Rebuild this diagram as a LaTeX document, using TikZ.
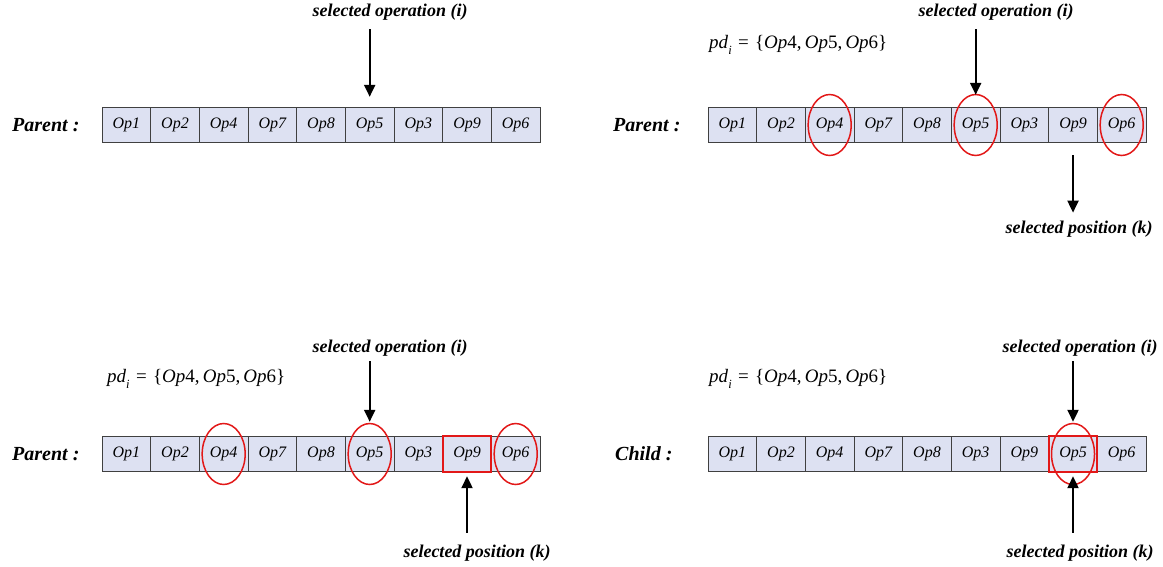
\documentclass[tikz,border=0pt]{standalone}
\usepackage{fontspec}
\setmainfont{Liberation Serif}
\usetikzlibrary{arrows.meta,shapes.geometric}
\definecolor{cellfill}{RGB}{221,225,242}
\definecolor{opred}{RGB}{226,24,24}
\newcommand{\pdset}{\textit{pd}\raisebox{-0.3em}{\fontsize{12.5}{14}\selectfont\textit{i}}\,\,=\,\,\{\textit{Op}4,\,\textit{Op}5,\,\textit{Op}6\}}
\begin{document}
\begin{tikzpicture}[x=1pt,y=-1pt,
  cell/.style={draw=black!75,fill=cellfill,minimum width=48.67pt,minimum height=35.5pt,inner sep=0pt,
    font=\fontsize{16}{19}\selectfont\itshape,line width=0.9pt},
  lbl/.style={font=\fontsize{20}{24}\selectfont\bfseries\itshape,anchor=west,inner sep=0pt},
  note/.style={font=\fontsize{18}{21}\selectfont\bfseries\itshape,inner sep=0pt},
  pdtext/.style={font=\fontsize{19}{22}\selectfont,anchor=west,inner sep=0pt},
  arr/.style={-{Triangle[length=12pt,width=11pt]},line width=2pt},
  ring/.style={draw=opred,ellipse,line width=1.5pt,minimum width=43pt,minimum height=61pt,inner sep=0pt},
  hbox/.style={draw=opred,line width=1.8pt,minimum width=48.67pt,minimum height=35.5pt,inner sep=0pt}
]
\useasboundingbox (0,0) rectangle (1163,567);

% ---------- top left ----------
\node[lbl] (la) at (12,125) {Parent :};
\foreach \t [count=\i] in {Op1,Op2,Op4,Op7,Op8,Op5,Op3,Op9,Op6}
  \node[cell] (a\i) at ({102+48.67*(\i-0.5)},125) {\t};
\node[note] (ta) at (390,12) {selected operation (i)};
\coordinate (ta0) at (a6.north |- ta.south);
\draw[arr] ([yshift=-9pt]ta0) -- ([yshift=10pt]a6.north);

% ---------- top right ----------
\node[lbl] (lb) at (613,125) {Parent :};
\foreach \t [count=\i] in {Op1,Op2,Op4,Op7,Op8,Op5,Op3,Op9,Op6}
  \node[cell] (b\i) at ({708+48.67*(\i-0.5)},125) {\t};
\node[pdtext] (pb) at (709,45) {\pdset};
\node[ring] (rb3) at (b3) {};
\node[ring] (rb6) at (b6) {};
\node[ring] (rb9) at (b9) {};
\node[note] (tb) at (996,12) {selected operation (i)};
\coordinate (tb0) at (b6.north |- tb.south);
\draw[arr] ([yshift=-9pt]tb0) -- ([yshift=12pt]b6.north);
\node[note] (kb) at (1079,229) {selected position (k)};
\coordinate (kb0) at (b8.south |- kb.north);
\draw[arr] ([yshift=-12pt]b8.south) -- ([yshift=8pt]kb0);

% ---------- bottom left ----------
\node[lbl] (lc) at (12,454) {Parent :};
\foreach \t [count=\i] in {Op1,Op2,Op4,Op7,Op8,Op5,Op3,Op9,Op6}
  \node[cell] (c\i) at ({102+48.67*(\i-0.5)},454) {\t};
\node[pdtext] (pc) at (107,379) {\pdset};
\node[ring] (rc3) at (c3) {};
\node[ring] (rc6) at (c6) {};
\node[ring] (rc9) at (c9) {};
\node[hbox] (hc8) at (c8) {};
\node[note] (tc) at (390,348) {selected operation (i)};
\coordinate (tc0) at (c6.north |- tc.south);
\draw[arr] ([yshift=-5pt]tc0) -- ([yshift=14pt]c6.north);
\node[note] (kc) at (477,553) {selected position (k)};
\coordinate (kc0) at (c8.south |- kc.north);
\draw[arr] ([yshift=12pt]kc0) -- ([yshift=-4pt]c8.south);

% ---------- bottom right ----------
\node[lbl] (ld) at (615,454) {Child :};
\foreach \t [count=\i] in {Op1,Op2,Op4,Op7,Op8,Op3,Op9,Op5,Op6}
  \node[cell] (d\i) at ({708+48.67*(\i-0.5)},454) {\t};
\node[pdtext] (pd) at (709,379) {\pdset};
\node[hbox] (hd8) at (d8) {};
\node[ring] (rd8) at (d8) {};
\node[note] (td) at (1080,348) {selected operation (i)};
\coordinate (td0) at (d8.north |- td.south);
\draw[arr] ([yshift=-5pt]td0) -- ([yshift=14pt]d8.north);
\node[note] (kd) at (1080,553) {selected position (k)};
\coordinate (kd0) at (d8.south |- kd.north);
\draw[arr] ([yshift=12pt]kd0) -- ([yshift=-4pt]d8.south);
\end{tikzpicture}
\end{document}
